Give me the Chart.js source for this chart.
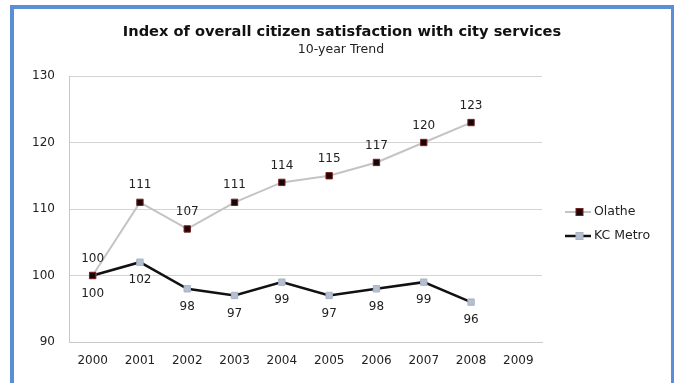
<!DOCTYPE html>
<html><head><meta charset="utf-8">
<script src="https://cdn.jsdelivr.net/npm/chart.js@4/dist/chart.umd.min.js"></script>
<style>
html,body{margin:0;padding:0;background:#fff;width:674px;height:383px;overflow:hidden;}
#frame{position:absolute;left:10px;top:5px;width:664px;height:378px;box-sizing:border-box;border-left:4px solid #5a8fd8;border-top:4px solid #5a8fd8;border-right:3px solid #5a8fd8;}
#c{position:absolute;left:0;top:0;}
</style></head><body>
<div id="frame"></div>
<canvas id="c" width="674" height="383"></canvas>
<script>
const titleText = "Index of overall citizen satisfaction with city services";
const subtitleText = "10-year Trend";
const years = ["2000","2001","2002","2003","2004","2005","2006","2007","2008","2009"];
const olathe = [100,111,107,111,114,115,117,120,123,null];
const kcMetro = [100,102,98,97,99,97,98,99,96,null];
const seriesNames = ["Olathe","KC Metro"];
const yTicks = [90,100,110,120,130];

const FONT = "'DejaVu Sans', sans-serif";

const labelPlugin = {
  id:'labels',
  afterDatasetsDraw(chart){
    const ctx = chart.ctx;
    ctx.save();
    ctx.font = "12px " + FONT;
    ctx.fillStyle = "#222";
    ctx.textAlign = "center";
    ctx.textBaseline = "middle";
    chart.data.datasets.forEach((ds,di)=>{
      const meta = chart.getDatasetMeta(di);
      meta.data.forEach((pt,i)=>{
        const v = ds.data[i];
        if(v==null) return;
        const off = di===0 ? -17 : 18;
        ctx.fillText(String(v), pt.x, pt.y+off);
      });
    });
    // titles
    ctx.font = "bold 14.6px " + FONT;
    ctx.fillStyle = "#111";
    ctx.fillText(titleText, 342, 32);
    ctx.font = "12.5px " + FONT;
    ctx.fillStyle = "#222";
    ctx.fillText(subtitleText, 341, 50);
    // legend
    const rows = [[212,0],[236,1]];
    rows.forEach(([y,di])=>{
      const ds = chart.data.datasets[di];
      ctx.strokeStyle = ds.borderColor;
      ctx.lineWidth = ds.borderWidth;
      ctx.beginPath(); ctx.moveTo(565,y); ctx.lineTo(591,y); ctx.stroke();
      ctx.fillStyle = ds.pointBackgroundColor;
      ctx.strokeStyle = ds.pointBorderColor;
      ctx.lineWidth = 1;
      ctx.fillRect(576,y-3.5,7,7);
      ctx.strokeRect(576,y-3.5,7,7);
      ctx.fillStyle = "#222";
      ctx.font = "12.5px " + FONT;
      ctx.textAlign = "left";
      ctx.fillText(seriesNames[di], 594, y);
    });
    ctx.restore();
  }
};

new Chart(document.getElementById('c'), {
  type:'line',
  data:{
    labels:years,
    datasets:[
      {label:seriesNames[0], data:olathe, borderColor:'#c4c4c4', borderWidth:2,
       pointStyle:'rect', pointRadius:4.5, pointBackgroundColor:'#1a0606', pointBorderColor:'#7a2020', pointBorderWidth:1, tension:0},
      {label:seriesNames[1], data:kcMetro, borderColor:'#111111', borderWidth:2.5,
       pointStyle:'rect', pointRadius:4.5, pointBackgroundColor:'#b4c0d0', pointBorderColor:'#a8b4c4', pointBorderWidth:1, tension:0}
    ]
  },
  options:{
    responsive:false, animation:false,
    layout:{padding:{left:0,right:132,top:76,bottom:0}},
    plugins:{legend:{display:false}, tooltip:{enabled:false}, title:{display:false}},
    scales:{
      x:{offset:true, grid:{display:false, drawTicks:false},
         border:{color:'#c8c8c8', width:1},
         ticks:{color:'#222', font:{family:FONT,size:12}, padding:12, maxRotation:0, autoSkip:false},
         afterFit(s){ s.height = 41; }},
      y:{min:90,max:130, afterBuildTicks(s){ s.ticks = yTicks.map(v=>({value:v})); },
         grid:{color:'#d4d4d4', lineWidth:1, drawTicks:false},
         border:{color:'#c8c8c8', width:1},
         ticks:{color:'#222', font:{family:FONT,size:12}, padding:14},
         afterFit(s){ s.width = 69; }}
    }
  },
  plugins:[labelPlugin]
});
</script>
</body></html>
